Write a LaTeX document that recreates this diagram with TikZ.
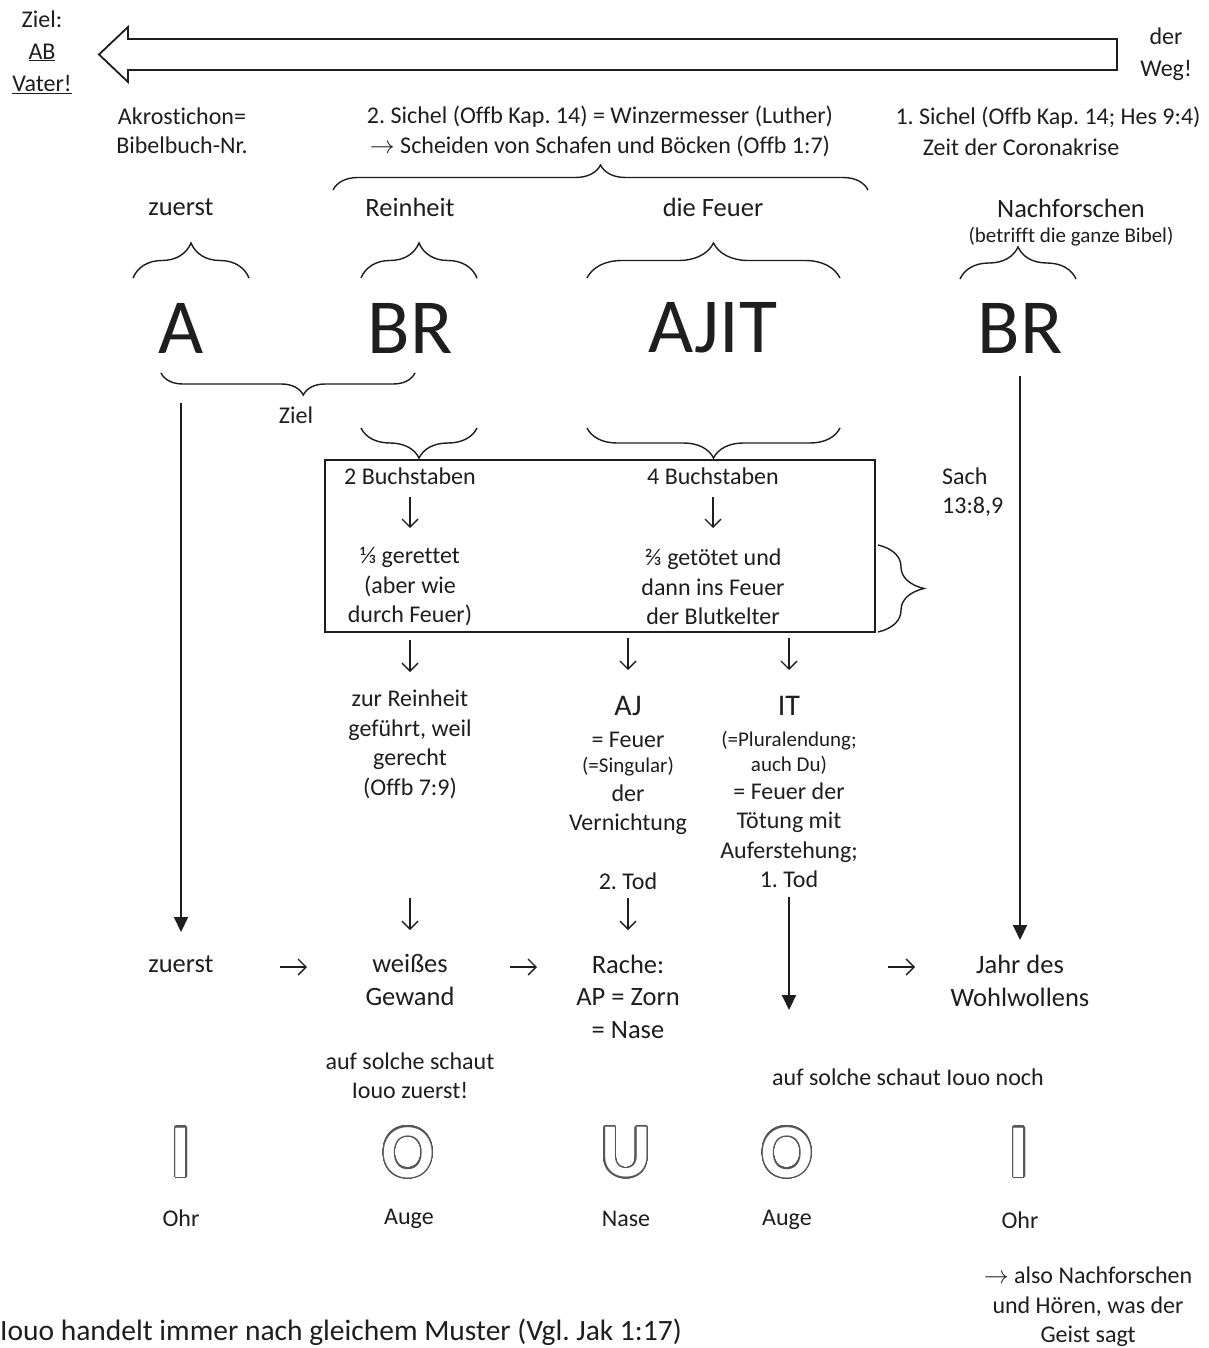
\documentclass[tikz,border=0pt]{standalone}
\usepackage{fontspec}
\setmainfont[Ligatures=NoCommon]{Carlito}
\usepackage{contour}
\contourlength{1.3pt}
\contournumber{48}
\usetikzlibrary{arrows.meta,decorations.pathreplacing}
\definecolor{ink}{HTML}{1E1E1E}
\begin{document}
\frenchspacing
\begin{tikzpicture}[x=1pt,y=-1pt,
  every node/.style={inner sep=0pt, text=ink},
  txt/.style={font=\fontsize{24}{29.5}\selectfont, align=center},
  lrg/.style={font=\fontsize{26.5}{32.5}\selectfont, align=center},
  wide/.style={font=\fontsize{24}{32}\selectfont, align=center},
  sml/.style={font=\fontsize{21}{25}\selectfont, align=center},
  big/.style={font=\fontsize{78}{80}\selectfont},
  mid/.style={font=\fontsize{30}{34}\selectfont},
  hollow/.style={font=\fontsize{76}{80}\selectfont\bfseries, text=white},
  brc/.style={draw=ink, line width=1.4pt, decorate, decoration={brace, amplitude=#1}},
  garrow/.style={draw=ink, line width=1.4pt, -{Straight Barb[length=8pt,width=16pt]}},
  larrow/.style={draw=ink, line width=2pt, -{Triangle[length=15pt,width=14pt]}}
]
\useasboundingbox (0,0) rectangle (1208,1348);
\fill[white] (0,0) rectangle (1208,1348);

% hollow path arrow
\draw[ink, line width=1.8pt, line join=miter] (1117,39) -- (128,39) -- (128,27) -- (99,54.5) -- (128,82) -- (128,70) -- (1117,70) -- cycle;

\node[wide] (ziel) at (42,52) {Ziel:\\\underline{AB}\\\underline{Vater!}};
\node[wide] (weg) at (1166,54) {der\\Weg!};

\node[txt] (akro) at (182,131) {Akrostichon=\\Bibelbuch-Nr.};
\node[txt] (sichel2) at (600,131.5) {2. Sichel (Offb Kap. 14) = Winzermesser (Luther)\\$\rightarrow$ Scheiden von Schafen und Böcken (Offb 1:7)};
\node[txt] (sichel1a) at (1048,118) {1. Sichel (Offb Kap. 14; Hes 9:4)};
\node[txt] (sichel1b) at (1021,147) {Zeit der Coronakrise};

\draw[brc=25pt] (333,190) -- (868,190);

\node[lrg] (zuerstT) at (181,207) {zuerst};
\node[lrg] (reinheit) at (410,207) {Reinheit};
\node[lrg] (feuer) at (713,207) {die Feuer};
\node[lrg] (nachf) at (1071,208) {Nachforschen};
\node[sml] (betrifft) at (1071,237) {(betrifft die ganze Bibel)};

\draw[brc=35pt] (133,278) -- (249,278);
\draw[brc=35pt] (361,278) -- (477,278);
\draw[brc=35pt] (587,278) -- (840,278);
\draw[brc=32pt] (960,279) -- (1076,279);

\node[big] (A) at (181,328) {A};
\node[big] (BR) at (410,328) {BR};
\node[big] (AJIT) at (713,328) {AJIT};
\node[big] (BR2) at (1020,328) {BR};

\draw[draw=ink, line width=1.4pt, decorate, decoration={brace, amplitude=22pt, mirror, aspect=0.56}] (161,373) -- (415,373);
\node[txt] (zielb) at (296,415) {Ziel};

\draw[brc=30pt] (477,428) -- (361,428);
\draw[brc=30pt] (840,428) -- (587,428);

\node[draw=ink, line width=1.4pt, minimum width=550pt, minimum height=172pt] (box) at (600,546) {};
\draw[brc=46pt] (878,545) -- (878,632);

\node[txt] (b2) at (410,476) {2 Buchstaben};
\node[txt] (b4) at (713,476) {4 Buchstaben};
\node[txt] (gerettet) at (410,587) {⅓ gerettet\\(aber wie\\durch Feuer)};
\node[txt] (getoetet) at (713,587) {⅔ getötet und\\dann ins Feuer\\der Blutkelter};
\node[txt, align=left, anchor=west] (sach) at (942,492) {Sach\\13:8,9};

\node[txt] (reinheit2) at (410,744.5) {zur Reinheit\\geführt, weil\\gerecht\\(Offb 7:9)};
\node[mid] (AJ) at (628,706) {AJ};
\node[txt] (aj1) at (628,740) {= Feuer};
\node[sml] (aj2) at (628,767) {(=Singular)};
\node[txt] (aj3) at (628,809.5) {der\\Vernichtung};
\node[mid] (IT) at (789,706) {IT};
\node[sml] (it1) at (789,752.5) {(=Pluralendung;\\auch Du)};
\node[txt] (it2) at (789,835.5) {= Feuer der\\Tötung mit\\Auferstehung;\\1. Tod};
\node[txt] (tod2) at (628,881) {2. Tod};

\node[lrg] (zuerstB) at (181,964) {zuerst};
\node[lrg] (weiss) at (410,980) {weißes\\Gewand};
\node[lrg] (rache) at (628,996.5) {Rache:\\AP = Zorn\\= Nase};
\node[lrg] (jahr) at (1020,981) {Jahr des\\Wohlwollens};
\coordinate (itEnd) at (789,1010);

\node[txt] (schaut1) at (410,1075.5) {auf solche schaut\\Iouo zuerst!};
\node[txt] (schaut2) at (908,1077) {auf solche schaut Iouo noch};

\node[hollow] (h1) at (181,1153) {\contour{ink!75}{I}};
\node[hollow] (h2) at (408,1153) {\contour{ink!75}{O}};
\node[hollow] (h3) at (626,1153) {\contour{ink!75}{U}};
\node[hollow] (h4) at (787,1153) {\contour{ink!75}{O}};
\node[hollow] (h5) at (1019,1153) {\contour{ink!75}{I}};

\node[txt] (l1) at (181,1218) {Ohr};
\node[txt] (l2) at (409,1219) {Auge};
\node[txt] (l3) at (626,1219) {Nase};
\node[txt] (l4) at (787,1220) {Auge};
\node[txt] (l5) at (1020,1220) {Ohr};

\node[txt] (also) at (1088,1307) {$\rightarrow$ also Nachforschen\\und Hören, was der\\Geist sagt};
\node[font=\fontsize{29.5}{33}\selectfont, anchor=west] (iouo) at (0,1332) {Iouo handelt immer nach gleichem Muster (Vgl. Jak 1:17)};

% small glyph-like arrows
\draw[garrow, shorten <=21pt, shorten >=59pt] (b2.center) -- (gerettet.center);
\draw[garrow, shorten <=21pt, shorten >=59pt] (b4.center) -- (getoetet.center);
\draw[garrow, shorten <=53pt, shorten >=72.5pt] (gerettet.center) -- (reinheit2.center);
\draw[garrow, shorten <=51pt, shorten >=36pt] (getoetet.center -| AJ.center) -- (AJ.center);
\draw[garrow, shorten <=51pt, shorten >=36pt] (getoetet.center -| IT.center) -- (IT.center);
\draw[garrow, shorten <=153.5pt, shorten >=50pt] (reinheit2.center) -- (weiss.center);
\draw[garrow, shorten <=17pt, shorten >=66.5pt] (tod2.center) -- (rache.center);
\draw[garrow, shorten <=99pt, shorten >=103pt] ([yshift=-3pt]zuerstB.center) -- ([yshift=-3pt]zuerstB.center -| weiss.center);
\draw[garrow, shorten <=100pt, shorten >=91pt] ([yshift=-3pt]zuerstB.center -| weiss.center) -- ([yshift=-3pt]zuerstB.center -| rache.center);
\draw[garrow, shorten <=260pt, shorten >=105pt] ([yshift=-3pt]zuerstB.center -| rache.center) -- ([yshift=-3pt]zuerstB.center -| jahr.center);

% long arrows
\draw[larrow, shorten <=75pt, shorten >=32pt] (A.center) -- (zuerstB.center);
\draw[larrow, shorten <=48pt, shorten >=41pt] (BR2.center) -- (jahr.center);
\draw[larrow, shorten <=61.5pt] (it2.center) -- (itEnd);
\end{tikzpicture}
\end{document}
